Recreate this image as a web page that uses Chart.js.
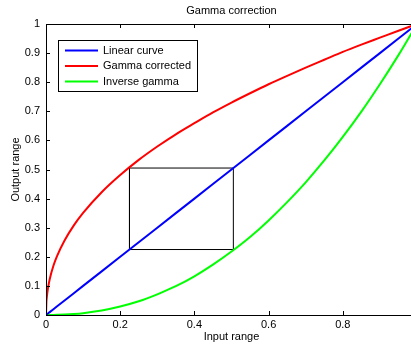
<!DOCTYPE html>
<html>
<head>
<meta charset="utf-8">
<script src="https://cdn.jsdelivr.net/npm/chart.js@4.4.1/dist/chart.umd.min.js"></script>
<style>
  html, body { margin: 0; padding: 0; background: #fff; overflow: hidden; width: 411px; height: 344px; }
  #wrap { width: 420px; height: 344px; }
</style>
</head>
<body>
<div id="wrap"><canvas id="gammaChart" width="420" height="344"></canvas></div>
<script>
// input samples and the three transfer curves
const inputX = [0, 0.001, 0.002, 0.005, 0.01, 0.02, 0.03, 0.05, 0.075, 0.1, 0.15, 0.2, 0.25, 0.3, 0.35, 0.4, 0.45, 0.5, 0.55, 0.6, 0.65, 0.7, 0.75, 0.8, 0.85, 0.9, 0.95, 1];
const linearY = [0, 0.001, 0.002, 0.005, 0.01, 0.02, 0.03, 0.05, 0.075, 0.1, 0.15, 0.2, 0.25, 0.3, 0.35, 0.4, 0.45, 0.5, 0.55, 0.6, 0.65, 0.7, 0.75, 0.8, 0.85, 0.9, 0.95, 1];
const gammaY = [0, 0.043, 0.059, 0.090, 0.123, 0.169, 0.203, 0.256, 0.308, 0.351, 0.422, 0.481, 0.533, 0.579, 0.621, 0.659, 0.696, 0.730, 0.762, 0.793, 0.822, 0.850, 0.877, 0.904, 0.929, 0.953, 0.977, 1];
const inverseY = [0, 0, 0, 0, 0, 0.0002, 0.0005, 0.0014, 0.0034, 0.0063, 0.0154, 0.029, 0.047, 0.071, 0.099, 0.133, 0.173, 0.218, 0.268, 0.325, 0.388, 0.456, 0.531, 0.612, 0.699, 0.793, 0.893, 1];

// highlighted box
const boxX = [0.225, 0.505, 0.505, 0.225, 0.225];
const boxY = [0.225, 0.225, 0.505, 0.505, 0.225];

const xTicks = [0, 0.2, 0.4, 0.6, 0.8, 1];
const yTicks = [0, 0.1, 0.2, 0.3, 0.4, 0.5, 0.6, 0.7, 0.8, 0.9, 1];

const seriesNames = ['Linear curve', 'Gamma corrected', 'Inverse gamma'];
const chartTitle = 'Gamma correction';
const xTitle = 'Input range';
const yTitle = 'Output range';

const toPoints = (xs, ys) => xs.map((x, i) => ({ x: x, y: ys[i] }));

const FONT = 'Liberation Sans, Arial, Helvetica, sans-serif';
Chart.defaults.font.family = FONT;
Chart.defaults.font.size = 11;
Chart.defaults.color = '#000';

// frame, inward ticks, titles and the boxed legend
const matlabAxes = {
  id: 'matlabAxes',
  afterDatasetsDraw(chart) {
    const c = chart.ctx;
    const a = chart.chartArea;
    const xs = chart.scales.x, ys = chart.scales.y;
    const midX = (a.left + a.right) / 2;
    c.save();
    c.strokeStyle = '#000';
    c.lineWidth = 1;
    c.strokeRect(a.left + 0.5, a.top + 0.5, a.right - a.left, a.bottom - a.top);
    c.beginPath();
    xTicks.forEach(v => {
      const px = Math.round(xs.getPixelForValue(v)) + 0.5;
      c.moveTo(px, a.bottom); c.lineTo(px, a.bottom - 4);
      c.moveTo(px, a.top); c.lineTo(px, a.top + 4);
    });
    yTicks.forEach(v => {
      const py = Math.round(ys.getPixelForValue(v)) + 0.5;
      c.moveTo(a.left, py); c.lineTo(a.left + 4, py);
    });
    c.stroke();

    // titles
    c.font = '11px ' + FONT;
    c.fillStyle = '#000';
    c.textAlign = 'center';
    c.textBaseline = 'middle';
    c.fillText(chartTitle, midX, 11);
    c.fillText(xTitle, midX, 336.5);
    c.save();
    c.translate(16, (a.top + a.bottom) / 2);
    c.rotate(-Math.PI / 2);
    c.fillText(yTitle, 0, 0);
    c.restore();

    // legend
    const lx = 58, ly = 40, lw = 139, lh = 51;
    c.fillStyle = '#fff';
    c.fillRect(lx, ly, lw, lh);
    c.strokeRect(lx + 0.5, ly + 0.5, lw, lh);
    c.textAlign = 'left';
    seriesNames.forEach((name, i) => {
      const ds = chart.data.datasets[i];
      const yy = ly + 10.5 + i * 15.5;
      c.strokeStyle = ds.borderColor;
      c.lineWidth = 2;
      c.beginPath();
      c.moveTo(lx + 7, yy); c.lineTo(lx + 40, yy);
      c.stroke();
      c.fillStyle = '#000';
      c.fillText(name, lx + 45, yy);
    });
    c.restore();
  }
};

const ctx = document.getElementById('gammaChart').getContext('2d');
const gammaChart = new Chart(ctx, {
  type: 'line',
  data: {
    datasets: [
      { label: seriesNames[0], data: toPoints(inputX, linearY), borderColor: '#0000ff' },
      { label: seriesNames[1], data: toPoints(inputX, gammaY), borderColor: '#ff0000', cubicInterpolationMode: 'monotone' },
      { label: seriesNames[2], data: toPoints(inputX, inverseY), borderColor: '#00ff00', cubicInterpolationMode: 'monotone' },
      { label: 'box', data: toPoints(boxX, boxY), borderColor: '#000', borderWidth: 1 }
    ]
  },
  options: {
    responsive: false,
    animation: false,
    parsing: false,
    elements: {
      point: { radius: 0 },
      line: { borderWidth: 2, fill: false }
    },
    layout: { padding: { top: 24 } },
    scales: {
      x: {
        type: 'linear', min: 0, max: 1,
        grid: { display: false, drawTicks: false },
        border: { display: false },
        afterFit: s => { s.height = 29; },
        afterBuildTicks: s => { s.ticks = xTicks.map(v => ({ value: v })); },
        ticks: {
          padding: 3,
          maxRotation: 0,
          callback: v => (v === 1 ? '' : String(v))
        }
      },
      y: {
        type: 'linear', min: 0, max: 1,
        grid: { display: false, drawTicks: false },
        border: { display: false },
        afterFit: s => { s.width = 46; },
        afterBuildTicks: s => { s.ticks = yTicks.map(v => ({ value: v })); },
        ticks: {
          padding: 6,
          callback: v => String(v)
        }
      }
    },
    plugins: {
      legend: { display: false },
      tooltip: { enabled: false },
      title: { display: false }
    }
  },
  plugins: [matlabAxes]
});
</script>
</body>
</html>
